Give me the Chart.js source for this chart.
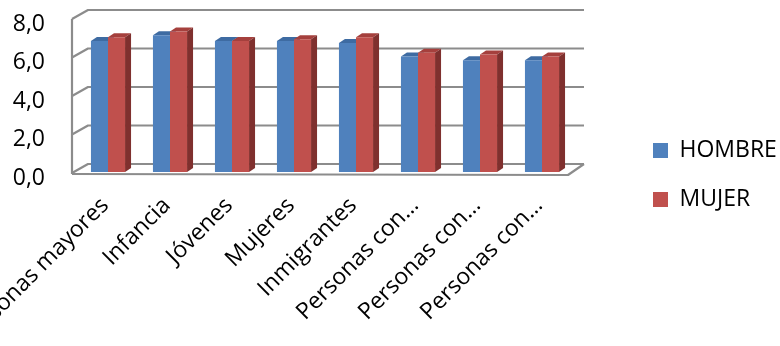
<!DOCTYPE html>
<html>
<head>
<meta charset="utf-8">
<script src="https://cdn.jsdelivr.net/npm/chart.js@4.4.1/dist/chart.umd.min.js"></script>
<style>
  html, body { margin: 0; padding: 0; background: #fff; overflow: hidden; }
  #wrap { width: 780px; height: 346px; overflow: hidden; position: relative; }
  /* canvas sticks out on the left so the first label gets cut like in the original */
  #chart { position: absolute; left: -40px; top: 0; }
</style>
</head>
<body>
<div id="wrap"><canvas id="chart" width="820" height="346"></canvas></div>
<script>
const categories = ["Personas mayores", "Infancia", "Jóvenes", "Mujeres", "Inmigrantes", "Personas con…", "Personas con…", "Personas con…"];
const hombre = [6.8, 7.1, 6.8, 6.8, 6.7, 6.0, 5.8, 5.8];
const mujer = [7.0, 7.3, 6.8, 6.9, 7.0, 6.2, 6.1, 6.0];
const yTicks = [0, 2, 4, 6, 8];

const FONT = "'Open Sans', sans-serif";
const frontColors = ["#4F81BD", "#C0504D"];
const topColors = ["#3E6BA2", "#A5403D"];
const sideColors = ["#34598A", "#7F302E"];

// fake 3d: bar depth and wall depth in px
const BAR_DX = 6, BAR_DY = -4;
const WALL_DX = 16, WALL_DY = -9;

const box3d = {
  id: "box3d",
  beforeDatasetsDraw(chart) {
    const ctx = chart.ctx;
    const a = chart.chartArea;
    const y = chart.scales.y;
    const x0 = a.left - 5, x1 = a.right - 5;
    const base = y.getPixelForValue(0);

    ctx.save();
    ctx.strokeStyle = "#8c8c8c";
    ctx.lineWidth = 2.2;
    ctx.lineJoin = "round";
    // back wall + left wall lines
    yTicks.forEach(v => {
      const py = y.getPixelForValue(v);
      ctx.beginPath();
      ctx.moveTo(x0, py + 1);
      ctx.lineTo(x0 + WALL_DX, py + 1 + WALL_DY);
      ctx.lineTo(x1 + WALL_DX, py + 1 + WALL_DY);
      ctx.stroke();
    });
    ctx.beginPath();
    ctx.moveTo(x0, base + 2);
    ctx.lineTo(x0, y.getPixelForValue(8) + 1);
    ctx.stroke();
    // floor
    ctx.beginPath();
    ctx.moveTo(x0, base + 2);
    ctx.lineTo(x1, base + 3);
    ctx.lineTo(x1 + WALL_DX, base + 1 + WALL_DY);
    ctx.stroke();

    // tops and sides of the bars, front faces are drawn by chart.js afterwards
    const metas = [0, 1].map(d => chart.getDatasetMeta(d));
    for (let i = 0; i < categories.length; i++) {
      metas.forEach((m, d) => {
        const p = m.data[i].getProps(["x", "y", "base", "width"], true);
        const l = p.x - p.width / 2, r = p.x + p.width / 2;
        ctx.fillStyle = topColors[d];
        ctx.beginPath();
        ctx.moveTo(l, p.y);
        ctx.lineTo(l + BAR_DX, p.y + BAR_DY);
        ctx.lineTo(r + BAR_DX, p.y + BAR_DY);
        ctx.lineTo(r, p.y);
        ctx.closePath();
        ctx.fill();
        ctx.fillStyle = sideColors[d];
        ctx.beginPath();
        ctx.moveTo(r, p.y);
        ctx.lineTo(r + BAR_DX, p.y + BAR_DY);
        ctx.lineTo(r + BAR_DX, p.base + BAR_DY);
        ctx.lineTo(r, p.base);
        ctx.closePath();
        ctx.fill();
      });
    }
    ctx.restore();
  }
};

// put the legend where excel had it
const legendSpot = {
  id: "legendSpot",
  afterLayout(chart) {
    const lg = chart.legend;
    const w = lg.width, h = lg.height;
    lg.left = 694 - 27;
    lg.right = lg.left + w;
    lg.top = 113;
    lg.bottom = lg.top + h;
  }
};

new Chart(document.getElementById("chart"), {
  type: "bar",
  data: {
    labels: categories,
    datasets: [
      { label: "HOMBRE", data: hombre, backgroundColor: frontColors[0] },
      { label: "MUJER", data: mujer, backgroundColor: frontColors[1] }
    ]
  },
  options: {
    responsive: false,
    animation: false,
    layout: { padding: { top: 18, right: 10, left: 0, bottom: 0 } },
    datasets: {
      bar: { barPercentage: 1, categoryPercentage: 0.55 }
    },
    plugins: {
      tooltip: { enabled: false },
      legend: {
        position: "right",
        align: "start",
        labels: {
          font: { family: FONT, size: 23 },
          color: "#000",
          boxWidth: 15,
          boxHeight: 15,
          padding: 26
        }
      }
    },
    scales: {
      x: {
        grid: { display: false, drawTicks: false },
        border: { display: false },
        ticks: {
          font: { family: FONT, size: 23 },
          color: "#000",
          minRotation: 45,
          maxRotation: 45,
          autoSkip: false,
          padding: 20,
          labelOffset: -3
        },
        afterFit(scale) {
          scale.height = 346 - 172;
          scale.paddingLeft = 0;
          scale.paddingRight = 207;
        }
      },
      y: {
        min: 0,
        max: 8,
        grid: { display: false, drawTicks: false },
        border: { display: false },
        ticks: {
          stepSize: 2,
          font: { family: FONT, size: 23 },
          color: "#000",
          padding: 32,
          labelOffset: 6,
          callback: v => v.toFixed(1).replace(".", ",")
        },
        afterFit(scale) {
          scale.width = 117;
          scale.paddingTop = 0;
          scale.paddingBottom = 0;
        }
      }
    }
  },
  plugins: [box3d, legendSpot]
});
</script>
</body>
</html>
